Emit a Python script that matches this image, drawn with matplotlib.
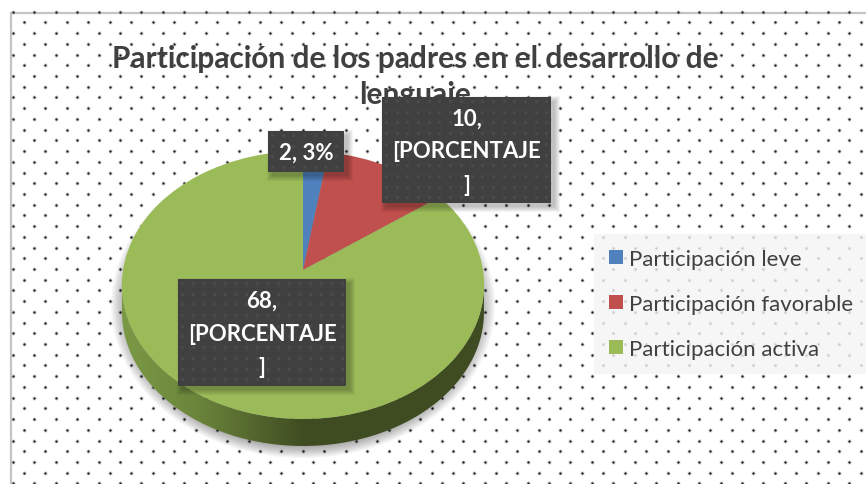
import numpy as np
import matplotlib
matplotlib.use("Agg")
import matplotlib.pyplot as plt
from matplotlib.patches import Rectangle, PathPatch, Ellipse
from matplotlib.path import Path
from matplotlib.transforms import Transform

categorias = ["Participación leve", "Participación favorable", "Participación activa"]
valores = [2, 10, 68]
colores = ["#4f81bd", "#c0504d", "#9bbb59"]
etiquetas = ["2, 3%", "10,\n[PORCENTAJE\n]", "68,\n[PORCENTAJE\n]"]
titulo = "Participación de los padres en el desarrollo de\nlenguaje"

plt.rcParams["font.family"] = ["Lato", "DejaVu Sans"]
W, H = 866, 485


class Perspectiva(Transform):
    # Inclina el circulo unitario del pie: el centro queda arriba del centro de la elipse
    input_dims = output_dims = 2

    def __init__(self, cx, cy, b, a, k):
        super().__init__()
        self.cx, self.cy, self.b, self.a, self.k = cx, cy, b, a, k

    def transform_non_affine(self, v):
        v = np.asarray(v, dtype=float)
        d = 1 + self.k * v[:, 1]
        return np.column_stack((self.cx + self.b * v[:, 0] / d, self.cy - self.a * v[:, 1] / d))

    def transform_path_non_affine(self, path):
        return Path(self.transform_non_affine(path.vertices), path.codes)


fig = plt.figure(figsize=(W / 100, H / 100), dpi=100)
ax = fig.add_axes([0, 0, 1, 1])

# el pie primero, porque pie() cambia limites y aspecto
wedges, _ = ax.pie(valores, colors=colores, startangle=90, counterclock=False)
ax.set_aspect("auto")
ax.axis("off")

warp = Perspectiva(303, 271, 180, 132.3, 0.112)
for w in wedges:
    w.set_transform(warp + ax.transData)
    w.set_zorder(5)
    w.set_edgecolor("none")

# marco
ax.add_patch(Rectangle((10.5, 13.5), W, H, fc="white", ec="#c4c4c4", lw=1.6, zorder=0))

# fondo de puntos
filas = np.arange(12.7, H, 10.72)
for i, y in enumerate(filas):
    x0 = 12.7 if i % 2 == 0 else 24
    xs = np.arange(x0, W, 21.45)
    ax.scatter(xs, [y] * len(xs), s=9, c="#a0a0a0", alpha=0.45, lw=0, zorder=1)
    ax.scatter(xs, [y] * len(xs), s=2.6, c="#1a1a1a", lw=0, zorder=1.1)

# sombra del pie, elipses apiladas
for esc in np.linspace(1.0, 0.9, 14):
    ax.add_patch(Ellipse((303, 306), 2 * 192 * esc, 2 * 153 * esc, fc="black", ec="none",
                         alpha=0.034, zorder=2))

# lateral del pie con degradado
t = np.linspace(np.pi, 0, 100)
xb = 303 + 181 * np.cos(t)
yb = 286 + 134 * np.sin(t)
verts = np.vstack((np.column_stack((xb, yb)), np.column_stack((xb[::-1], yb[::-1] + 27))))
lado = PathPatch(Path(verts), fc="none", ec="none", zorder=3)
ax.add_patch(lado)
grad = np.interp(np.linspace(0, 1, 256), [0, 0.2, 0.5, 1], [0, 0.25, 1, 1])
c1, c2 = np.array([0.48, 0.60, 0.27]), np.array([0.25, 0.30, 0.13])
franja = np.array([c1 + (c2 - c1) * g for g in grad])[None, :, :]
im = ax.imshow(franja, extent=(122, 484, 460, 270), aspect="auto", zorder=3)
im.set_clip_path(lado)

# titulo
ax.text(415, 77, titulo, ha="center", va="center", fontsize=21.5, fontweight="bold",
        color="#404040", linespacing=1.38, zorder=6)

# etiquetas de datos
cajas = [(268, 132, 76, 41), (382, 98, 169, 106), (178, 280, 168, 107)]
for (x, y, w, h), txt in zip(cajas, etiquetas):
    for i in range(6, 0, -1):
        ax.add_patch(Rectangle((x + 5 - i, y + 5 - i), w + 2 * i - 2, h + 2 * i - 2,
                               fc="black", alpha=0.045, ec="none", zorder=7))
    ax.add_patch(Rectangle((x, y), w, h, fc="#404040", ec="none", zorder=8))
    px = np.arange(x + 4, x + w, 10.7)
    py = np.arange(y + 4, y + h, 10.7)
    gx, gy = np.meshgrid(px, py)
    ax.scatter(gx.ravel(), gy.ravel(), s=6, c="#4b4b4b", lw=0, zorder=8.5)
    ax.text(x + w / 2, y + h / 2 + 1, txt, ha="center", va="center", fontsize=16, fontweight="bold",
            color="white", linespacing=1.72, zorder=9)

# leyenda
leg = ax.legend(wedges, categorias, loc="upper left", bbox_to_anchor=(594 / W, 1 - 235 / H),
                bbox_transform=ax.transAxes, frameon=True, framealpha=0.8, facecolor="#f4f4f4",
                edgecolor="none", fancybox=False, fontsize=16, handlelength=0.62, handleheight=0.62,
                handletextpad=0.28, labelspacing=1.12, borderaxespad=0, borderpad=0.68,
                labelcolor="#404040")
leg.set_zorder(6)

ax.set_xlim(0, W)
ax.set_ylim(H, 0)
fig.savefig("out.png", dpi=100)
